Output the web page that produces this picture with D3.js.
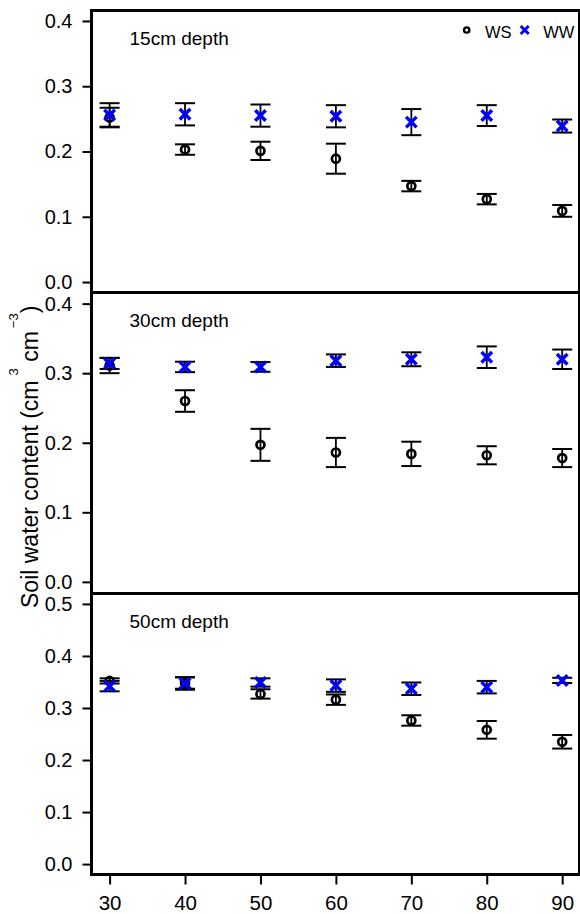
<!DOCTYPE html>
<html>
<head>
<meta charset="utf-8">
<script src="https://cdn.jsdelivr.net/npm/d3@7"></script>
<style>
  html, body { margin: 0; padding: 0; background: #fff; }
  svg { display: block; }
  text { font-family: "Liberation Sans", Arial, Helvetica, sans-serif; fill: #000; }
</style>
</head>
<body>
<svg id="chart" width="580" height="914"></svg>
<script>
// Soil depth positions along the transect (x axis)
const depths = [30, 40, 50, 60, 70, 80, 90];

// 15 cm layer: means and standard errors
const ws15 = [0.252, 0.203, 0.201, 0.189, 0.147, 0.127, 0.109];
const ws15Err = [0.015, 0.008, 0.014, 0.023, 0.008, 0.008, 0.009];
const ww15 = [0.256, 0.257, 0.255, 0.254, 0.245, 0.255, 0.239];
const ww15Err = [0.018, 0.017, 0.017, 0.017, 0.020, 0.016, 0.010];

// 30 cm layer
const ws30 = [0.311, 0.260, 0.197, 0.186, 0.184, 0.182, 0.178];
const ws30Err = [0.011, 0.0155, 0.023, 0.021, 0.0175, 0.013, 0.013];
const ww30 = [0.314, 0.309, 0.309, 0.318, 0.320, 0.323, 0.320];
const ww30Err = [0.008, 0.0075, 0.007, 0.009, 0.010, 0.0155, 0.014];

// 50 cm layer
const ws50 = [0.352, 0.348, 0.327, 0.316, 0.276, 0.258, 0.235];
const ws50Err = [0.005, 0.011, 0.009, 0.010, 0.010, 0.017, 0.013];
const ww50 = [0.342, 0.347, 0.349, 0.343, 0.337, 0.340, 0.353];
const ww50Err = [0.010, 0.012, 0.008, 0.012, 0.012, 0.012, 0.005];

// Axis ticks
const xTicks = [30, 40, 50, 60, 70, 80, 90];
const yTicksShallow = [0.0, 0.1, 0.2, 0.3, 0.4];
const yTicksDeep = [0.0, 0.1, 0.2, 0.3, 0.4, 0.5];

const panelLabels = ["15cm depth", "30cm depth", "50cm depth"];
const seriesNames = ["WS", "WW"];

const panels = [
  { label: panelLabels[0], ws: ws15, wsErr: ws15Err, ww: ww15, wwErr: ww15Err, ticks: yTicksShallow, ymax: 0.4, top: 10.5, bottom: 292.5 },
  { label: panelLabels[1], ws: ws30, wsErr: ws30Err, ww: ww30, wwErr: ww30Err, ticks: yTicksShallow, ymax: 0.4, top: 292.5, bottom: 593 },
  { label: panelLabels[2], ws: ws50, wsErr: ws50Err, ww: ww50, wwErr: ww50Err, ticks: yTicksDeep, ymax: 0.5, top: 593.5, bottom: 874.5 }
];

const left = 91.5, right = 580.3;
const BLUE = "#0000ff";

const svg = d3.select("#chart");

// x domain padded by 4% on each side
const xExt = [30, 90], xPad = (xExt[1] - xExt[0]) * 0.04;
const x = d3.scaleLinear().domain([xExt[0] - xPad, xExt[1] + xPad]).range([left, right]);

function crossPath(size) {
  const h = size / 2;
  return `M${-h},${-h}L${h},${h}M${-h},${h}L${h},${-h}`;
}

panels.forEach((p, i) => {
  const pad = p.ymax * 0.04;
  const y = d3.scaleLinear().domain([-pad, p.ymax + pad]).range([p.bottom, p.top]);
  const g = svg.append("g");

  // y axis
  const yAxis = g.append("g")
    .attr("transform", `translate(${left},0)`)
    .call(d3.axisLeft(y).tickValues(p.ticks).tickFormat(d3.format(".1f")).tickSize(9).tickPadding(10));
  yAxis.select(".domain").remove();
  yAxis.selectAll(".tick line").attr("stroke", "#000").attr("stroke-width", 2);
  yAxis.selectAll(".tick text").style("font-size", "20px").attr("fill", "#000");

  // panel label
  g.append("text")
    .attr("x", 129.5)
    .attr("y", p.top + 34)
    .style("font-size", "19px")
    .text(p.label);

  const wsRows = depths.map((d, k) => ({ d, v: p.ws[k], e: p.wsErr[k] }));
  const wwRows = depths.map((d, k) => ({ d, v: p.ww[k], e: p.wwErr[k] }));
  const allRows = wsRows.concat(wwRows);

  // error bars
  const bars = g.append("g").attr("stroke", "#000").attr("fill", "none");
  bars.selectAll("line.stem").data(allRows).join("line")
    .attr("class", "stem")
    .attr("x1", r => x(r.d)).attr("x2", r => x(r.d))
    .attr("y1", r => y(r.v - r.e)).attr("y2", r => y(r.v + r.e))
    .attr("stroke-width", 1.8);
  const capHalf = 10;
  ["lo", "hi"].forEach(side => {
    bars.selectAll("line.cap-" + side).data(allRows).join("line")
      .attr("class", "cap-" + side)
      .attr("x1", r => x(r.d) - capHalf).attr("x2", r => x(r.d) + capHalf)
      .attr("y1", r => y(side === "lo" ? r.v - r.e : r.v + r.e))
      .attr("y2", r => y(side === "lo" ? r.v - r.e : r.v + r.e))
      .attr("stroke-width", 2);
  });

  // WS: open circles
  g.append("g").selectAll("circle").data(wsRows).join("circle")
    .attr("cx", r => x(r.d)).attr("cy", r => y(r.v))
    .attr("r", 4)
    .attr("fill", "none").attr("stroke", "#000").attr("stroke-width", 2.7);

  // WW: blue crosses
  g.append("g").selectAll("path").data(wwRows).join("path")
    .attr("transform", r => `translate(${x(r.d)},${y(r.v)})`)
    .attr("d", crossPath(10.5))
    .attr("fill", "none").attr("stroke", BLUE).attr("stroke-width", 3.5);
});

// x axis under the bottom panel
const bottomY = panels[2].bottom;
const xAxis = svg.append("g")
  .attr("transform", `translate(0,${bottomY})`)
  .call(d3.axisBottom(x).tickValues(xTicks).tickFormat(d3.format("d")).tickSize(10).tickPadding(11));
xAxis.select(".domain").remove();
xAxis.selectAll(".tick line").attr("stroke", "#000").attr("stroke-width", 2);
xAxis.selectAll(".tick text").style("font-size", "20.5px").attr("fill", "#000");

// panel frames
const frame = svg.append("g").attr("stroke", "#000").attr("fill", "none");
const hLines = [panels[0].top, panels[0].bottom, panels[1].bottom + 0.5, panels[2].bottom];
frame.selectAll("line.h").data(hLines).join("line")
  .attr("class", "h")
  .attr("x1", left).attr("x2", 580).attr("y1", d => d).attr("y2", d => d)
  .attr("stroke-width", 3);
frame.append("line")
  .attr("x1", left).attr("x2", left).attr("y1", panels[0].top - 1.5).attr("y2", panels[2].bottom + 1.5)
  .attr("stroke-width", 3);
frame.append("line")
  .attr("x1", 579).attr("x2", 579).attr("y1", panels[0].top).attr("y2", panels[2].bottom)
  .attr("stroke-width", 2);

// legend in the top panel
const legend = svg.append("g");
legend.append("circle")
  .attr("cx", 466.7).attr("cy", 30).attr("r", 2.7)
  .attr("fill", "none").attr("stroke", "#000").attr("stroke-width", 2.3);
legend.append("text").attr("x", 485).attr("y", 37.5).style("font-size", "16.5px").text(seriesNames[0]);
legend.append("path")
  .attr("transform", "translate(524.7,30)")
  .attr("d", crossPath(8))
  .attr("fill", "none").attr("stroke", BLUE).attr("stroke-width", 3);
legend.append("text").attr("x", 543.3).attr("y", 37.5).style("font-size", "16.5px").text(seriesNames[1]);

// y axis title with superscripts
const title = svg.append("text")
  .attr("transform", "translate(38,608) rotate(-90)")
  .attr("text-anchor", "start")
  .style("font-size", "23px");
title.append("tspan").text("Soil water content (cm");
title.append("tspan").attr("dx", 5).attr("dy", -20).style("font-size", "13px").text("3");
title.append("tspan").attr("dy", 20).text(" cm");
title.append("tspan").attr("dx", 3).attr("dy", -20).style("font-size", "13px").text("\u22123");
title.append("tspan").attr("dy", 20).text(")");
</script>
</body>
</html>
